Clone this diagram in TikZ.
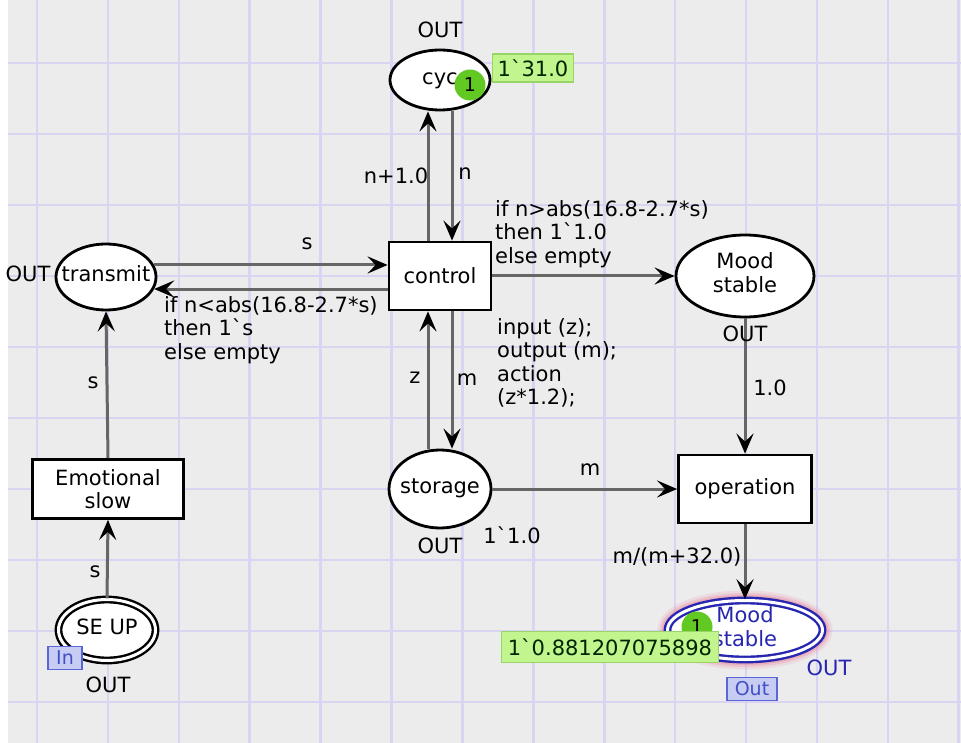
\documentclass[tikz,border=0pt]{standalone}
\usepackage{fontspec}
\setmainfont{DejaVu Sans}
\usetikzlibrary{arrows.meta,calc,shapes.geometric}
\definecolor{bgc}{HTML}{ECECEC}
\definecolor{gridc}{HTML}{D8D4F2}
\definecolor{arcc}{HTML}{666666}
\definecolor{bluec}{HTML}{2626B0}
\definecolor{tagfill}{HTML}{C6CCF2}
\definecolor{tagdraw}{HTML}{5A66D8}
\definecolor{tagtext}{HTML}{4050C8}
\definecolor{markfill}{HTML}{C2F58E}
\definecolor{markdraw}{HTML}{98D468}
\definecolor{tokfill}{HTML}{62C822}
\definecolor{glowc}{HTML}{E890A8}
\newcommand\ptxt[1]{\raisebox{-5pt}[0pt][0pt]{\makebox[0pt]{\begin{tabular}{@{}c@{}}#1\end{tabular}}}}
\newcommand\bqt{\textasciigrave}
\begin{document}
\begin{tikzpicture}[x=1pt,y=-1pt,
  every node/.style={font=\fontsize{21}{23.5}\selectfont, text=black},
  place/.style={ellipse, draw=black, line width=2.8pt, fill=white, inner sep=0pt},
  dplace/.style={ellipse, draw=black, line width=2.4pt, double=white, double distance=3pt, inner sep=0pt},
  trans/.style={rectangle, draw=black, line width=2.8pt, fill=white, align=center, inner sep=0pt},
  arc/.style={draw=arcc, line width=3pt, -{Stealth[length=20pt,width=17pt,inset=8pt,color=black]}},
  lbl/.style={inner sep=0pt},
  mlbl/.style={inner sep=0pt, align=left, anchor=west},
  marking/.style={rectangle, fill=markfill, draw=markdraw, line width=1.2pt, inner sep=0pt, text=black!85!green},
  token/.style={circle, fill=tokfill, inner sep=0pt, minimum size=31pt, font=\fontsize{19}{20}\selectfont},
  tag/.style={rectangle, fill=tagfill, draw=tagdraw, line width=1.8pt, inner sep=0pt, minimum height=23pt, text=tagtext, font=\fontsize{19}{20}\selectfont},
  gridline/.style={draw=gridc, line width=2.6pt}
]
\useasboundingbox (0,0) rectangle (961,743);
\fill[white] (0,0) rectangle (961,743);
\fill[bgc] (8,0) rectangle (961,743);
\foreach \i in {0,...,13} \draw[gridline] ({37+70.9*\i},0) -- ({37+70.9*\i},743);
\foreach \j in {0,...,9} \draw[gridline] (8,{63+71*\j}) -- (961,{63+71*\j});

% glow of the bottom place
\coordinate (ms2c) at (745,630);
\draw[glowc, line width=15pt, opacity=0.18] (ms2c) ellipse [x radius=80, y radius=32];
\draw[glowc, line width=10pt, opacity=0.3] (ms2c) ellipse [x radius=80, y radius=32];
\draw[glowc, line width=6pt, opacity=0.45] (ms2c) ellipse [x radius=80, y radius=32];

% places and transitions
\node[place, minimum width=100pt, minimum height=60pt] (cyc) at (440,80) {\ptxt{cyc}};
\node[trans, minimum width=102pt, minimum height=68pt] (control) at (440,276) {control};
\node[place, minimum width=100pt, minimum height=66pt] (transmit) at (106,277) {\ptxt{transmit}};
\node[trans, minimum width=151pt, minimum height=59pt] (emo) at (108,489) {Emotional\\slow};
\node[dplace, fill=white, minimum width=97pt, minimum height=61pt] (seup) at (107,630) {\ptxt{SE UP}};
\node[place, minimum width=102pt, minimum height=78pt] (storage) at (440,489) {\ptxt{storage}};
\node[place, minimum width=138pt, minimum height=82pt] (ms1) at (745,276) {\ptxt{Mood\\stable}};
\node[trans, minimum width=133pt, minimum height=68pt] (op) at (745,489) {operation};
\node[dplace, draw=bluec, fill=white, text=bluec, minimum width=155pt, minimum height=59pt] (ms2) at (ms2c) {\ptxt{Mood\\stable}};

% arcs
\draw[arc] ([xshift=12pt]cyc.south) -- ([xshift=12pt]control.north);
\draw[arc] ([xshift=-12pt]control.north) -- ([xshift=-12pt]cyc.south);
\draw[arc] ([xshift=12pt]control.south) -- ([xshift=12pt]storage.north);
\draw[arc] ([xshift=-12pt]storage.north) -- ([xshift=-12pt]control.south);
\draw[arc] (transmit.14) -- (transmit.14 -| control.west);
\draw[arc] (control.west |- transmit.-14) -- (transmit.-14);
\draw[arc] (emo.north) -- (transmit.south);
\draw[arc] (seup.north) -- (emo.south);
\draw[arc] (control.east) -- (ms1.west);
\draw[arc] (ms1.south) -- (op.north);
\draw[arc] (storage.east) -- (op.west);
\draw[arc] (op.south) -- (ms2.north);

% inscriptions
\node[lbl] (l1) at (440,30) {OUT};
\node[lbl] (l2) at (396,176) {n+1.0};
\node[lbl] (l3) at (465,174) {n};
\node[mlbl] (l4) at (495,234) {if n>abs(16.8-2.7*s)\\then 1\bqt1.0\\else empty};
\node[lbl] (l5) at (307,244) {s};
\node[mlbl] (l6) at (164,330) {if n<abs(16.8-2.7*s)\\then 1\bqt s\\else empty};
\node[lbl] (l7) at (28,274) {OUT};
\node[lbl] (l8) at (93,383) {s};
\node[lbl] (l9) at (95,572) {s};
\node[lbl] (l10) at (108,685) {OUT};
\node[lbl] (l11) at (415,378) {z};
\node[lbl] (l12) at (467,380) {m};
\node[mlbl] (l13) at (497,363) {input (z);\\output (m);\\action\\(z*1.2);};
\node[lbl] (l14) at (440,546) {OUT};
\node[lbl] (l15) at (512,535) {1\bqt1.0};
\node[lbl] (l16) at (590,470) {m};
\node[lbl] (l17) at (745,334) {OUT};
\node[lbl] (l18) at (770,388) {1.0};
\node[lbl] (l19) at (677,557) {m/(m+32.0)};
\node[lbl, text=bluec] (l20) at (829,668) {OUT};

% tags
\node[tag, minimum width=34pt] (intag) at (65,658) {In};
\node[tag, minimum width=50pt] (outtag) at (752,689) {Out};

% tokens and markings
\node[token] (tok1) at (470,85) {1};
\node[marking, minimum width=81pt, minimum height=28pt] (mk1) at (533,68) {1\bqt31.0};
\node[token] (tok2) at (697,627) {1};
\node[marking, minimum width=217pt, minimum height=31pt] (mk2) at (610,647) {1\bqt0.881207075898};
\end{tikzpicture}
\end{document}
